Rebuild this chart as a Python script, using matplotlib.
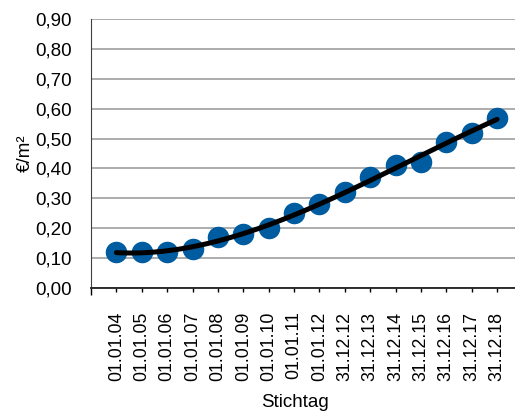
import matplotlib.pyplot as plt
import numpy as np
from matplotlib.ticker import FixedLocator, FuncFormatter

plt.rcParams["font.family"] = ["Liberation Sans", "DejaVu Sans"]

dates = ["01.01.04", "01.01.05", "01.01.06", "01.01.07", "01.01.08", "01.01.09",
         "01.01.10", "01.01.11", "01.01.12", "31.12.12", "31.12.13", "31.12.14",
         "31.12.15", "31.12.16", "31.12.17", "31.12.18"]
values = [0.12, 0.12, 0.12, 0.13, 0.17, 0.18, 0.20, 0.25, 0.28, 0.32, 0.37,
          0.41, 0.42, 0.49, 0.52, 0.57]
y_ticks = [0.0, 0.1, 0.2, 0.3, 0.4, 0.5, 0.6, 0.7, 0.8, 0.9]

x = np.arange(len(dates))

fig = plt.figure(figsize=(5.15, 4.12), dpi=100)
ax = fig.add_axes([0.1767, 0.301, 0.823, 0.653])

# polynomial trend line through the points
coef = np.polyfit(x, values, 3)
xs = np.linspace(x[0], x[-1], 200)

ax.plot(x, values, "o", color="#005ca0", markersize=14.5, zorder=3)
ax.plot(xs, np.polyval(coef, xs), color="black", lw=3.6, zorder=4,
        solid_capstyle="round")

ax.set_ylim(0, 0.9)
ax.set_xlim(-1, len(dates) - 0.3)
ax.set_yticks(y_ticks)
ax.yaxis.set_major_formatter(FuncFormatter(lambda v, p: f"{v:.2f}".replace(".", ",")))
ax.yaxis.grid(True, color="#a6a6a6", lw=1.3)
ax.set_axisbelow(True)
ax.tick_params(axis="y", length=0, labelsize=13.5, pad=14)

ax.set_xticks(x)
ax.set_xticklabels(dates, rotation=90, fontsize=12.8)
ax.xaxis.set_minor_locator(FixedLocator(np.arange(-1, len(dates), 2)))
ax.tick_params(axis="x", which="major", length=3, width=1, pad=14)
ax.tick_params(axis="x", which="minor", length=5, width=1)

for s in ["top", "right"]:
    ax.spines[s].set_visible(False)
ax.spines["left"].set_color("#404040")
ax.spines["bottom"].set_color("#202020")
ax.spines["bottom"].set_linewidth(1.3)

ax.set_ylabel("€/m²", fontsize=13.5, labelpad=1)
ax.set_xlabel("Stichtag", fontsize=13.5)
ax.xaxis.set_label_coords(0.481, -0.395)

fig.savefig("out.png", dpi=100)
